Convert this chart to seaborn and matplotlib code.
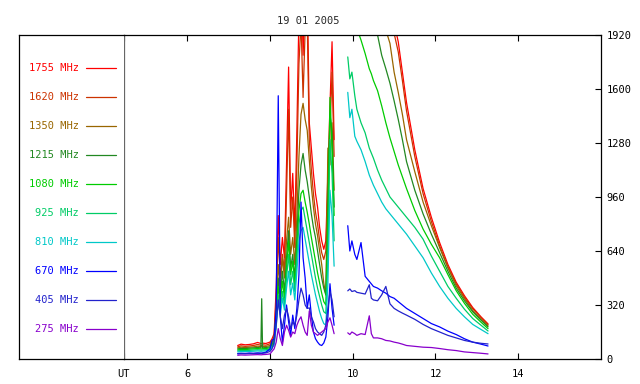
import numpy as np
import pandas as pd
import matplotlib
matplotlib.use('Agg')
import matplotlib.pyplot as plt
import seaborn as sns

sns.set_style('white')
matplotlib.rcParams['font.family'] = ['DejaVu Sans Mono']
matplotlib.rcParams['font.size'] = 7.5

freqs = ['1755 MHz', '1620 MHz', '1350 MHz', '1215 MHz', '1080 MHz',
         '925 MHz', '810 MHz', '670 MHz', '405 MHz', '275 MHz']
colors = ['#ff0000', '#cc3300', '#996600', '#228822', '#00cc00',
          '#00cc66', '#00c8c8', '#0000ff', '#2222cc', '#8800cc']

# pre-flare + impulsive phase (UT hours)
t_rise = [7.22, 7.30, 7.40, 7.50, 7.60, 7.70, 7.78, 7.80, 7.82, 7.90, 8.00, 8.05,
          8.10, 8.15, 8.20, 8.25, 8.30, 8.35, 8.40, 8.45, 8.50, 8.55,
          8.60, 8.65, 8.70, 8.75, 8.80, 8.85, 8.90, 8.95, 9.00, 9.05,
          9.10, 9.15, 9.20, 9.25, 9.30, 9.35, 9.40, 9.45, 9.50, 9.55]
# gradual decay phase
t_decay = [9.88, 9.93, 9.98, 10.05, 10.10, 10.20, 10.30, 10.40, 10.45, 10.50,
           10.60, 10.70, 10.80, 10.90, 11.00, 11.10, 11.20, 11.30, 11.50, 11.70,
           11.90, 12.10, 12.30, 12.50, 12.70, 12.90, 13.10, 13.27]

rise_1755 = [80, 88, 84, 86, 90, 98, 92, 90, 94, 92, 100, 120,
             150, 420, 850, 560, 720, 600, 1150, 1730, 880, 1100,
             760, 1350, 2050, 2400, 1800, 2150, 2250, 1400, 1250, 1100,
             980, 900, 780, 700, 650, 700, 1100, 1500, 1880, 1300]
rise_1620 = [72, 78, 75, 77, 80, 86, 82, 80, 84, 82, 90, 110,
             130, 360, 720, 480, 620, 520, 980, 1480, 780, 960,
             660, 1150, 1750, 2000, 1550, 1950, 2000, 1300, 1120, 980,
             870, 800, 700, 630, 590, 640, 1000, 1350, 1700, 1200]
rise_1350 = [66, 70, 68, 70, 72, 76, 74, 72, 75, 74, 80, 100,
             120, 300, 560, 420, 600, 480, 700, 840, 620, 720,
             560, 850, 1200, 1450, 1515, 1420, 1355, 1180, 1020, 900,
             800, 730, 640, 560, 450, 380, 1250, 1150, 1400, 1000]
rise_1215 = [60, 63, 62, 64, 66, 68, 66, 357, 66, 68, 72, 90,
             110, 260, 480, 360, 520, 400, 600, 760, 540, 620,
             480, 720, 1000, 1150, 1218, 1120, 1050, 960, 860, 780,
             720, 640, 560, 480, 420, 380, 900, 1450, 1350, 900]
rise_1080 = [54, 57, 56, 58, 60, 62, 60, 60, 61, 62, 66, 85,
             100, 240, 430, 330, 460, 360, 540, 700, 500, 580,
             440, 660, 880, 980, 1000, 930, 870, 800, 720, 650,
             580, 510, 450, 390, 340, 320, 800, 1550, 1250, 850]
rise_925 = [48, 50, 50, 51, 53, 55, 53, 53, 54, 55, 58, 75,
            90, 210, 380, 290, 400, 320, 480, 620, 440, 520,
            400, 590, 800, 880, 900, 830, 760, 690, 620, 550,
            480, 420, 370, 320, 280, 270, 600, 1300, 1100, 700]
rise_810 = [42, 44, 44, 45, 46, 48, 46, 46, 47, 48, 52, 68,
            80, 190, 340, 260, 360, 290, 420, 520, 380, 450,
            350, 520, 700, 760, 780, 710, 640, 570, 500, 440,
            380, 330, 280, 240, 210, 200, 450, 1000, 850, 550]
rise_670 = [32, 34, 33, 35, 34, 36, 35, 35, 36, 40, 60, 110,
            120, 300, 1560, 250, 100, 200, 320, 220, 140, 260,
            180, 300, 500, 930, 600, 480, 300, 380, 260, 160,
            120, 100, 85, 80, 95, 130, 250, 446, 300, 200]
rise_405 = [30, 32, 31, 33, 32, 34, 33, 33, 34, 36, 45, 60,
            100, 200, 350, 250, 180, 260, 300, 250, 180, 220,
            200, 260, 350, 420, 380, 320, 300, 303, 250, 220,
            180, 160, 150, 140, 160, 200, 300, 400, 350, 250]
rise_275 = [22, 24, 23, 24, 25, 26, 25, 25, 26, 27, 30, 45,
            60, 100, 180, 120, 80, 160, 200, 170, 130, 160,
            150, 200, 230, 250, 200, 160, 140, 285, 200, 160,
            150, 140, 150, 160, 170, 180, 220, 244, 200, 150]

decay_1755 = [3600, 3520, 3450, 3330, 3250, 3080, 2900, 2720, 2640, 2560,
              2400, 2270, 2150, 2060, 1990, 1880, 1700, 1520, 1240, 1010,
              840, 690, 560, 455, 375, 305, 250, 208]
decay_1620 = [3500, 3420, 3350, 3230, 3150, 2990, 2810, 2640, 2560, 2480,
              2330, 2200, 2090, 2000, 1930, 1820, 1650, 1470, 1200, 980,
              815, 670, 545, 445, 365, 298, 245, 203]
decay_1350 = [3100, 3030, 2960, 2860, 2790, 2640, 2490, 2340, 2270, 2200,
              2080, 2000, 1950, 1870, 1700, 1580, 1450, 1300, 1110, 930,
              790, 660, 540, 435, 357, 287, 235, 196]
decay_1215 = [2700, 2640, 2580, 2490, 2420, 2280, 2150, 2030, 1990, 1960,
              1920, 1800, 1720, 1634, 1530, 1420, 1300, 1170, 1000, 860,
              740, 630, 520, 420, 345, 280, 230, 190]
decay_1080 = [2200, 2140, 2080, 2010, 1960, 1890, 1810, 1720, 1690, 1650,
              1590, 1500, 1400, 1310, 1230, 1150, 1080, 1010, 880, 770,
              680, 600, 500, 405, 330, 265, 218, 180]
decay_925 = [1790, 1660, 1700, 1560, 1480, 1400, 1340, 1250, 1220, 1190,
             1120, 1060, 1010, 960, 930, 900, 870, 840, 780, 710,
             610, 520, 430, 360, 295, 240, 200, 166]
decay_810 = [1580, 1430, 1480, 1320, 1290, 1240, 1170, 1090, 1060, 1030,
             980, 930, 890, 860, 830, 800, 770, 740, 670, 600,
             510, 430, 360, 300, 250, 205, 175, 150]
decay_670 = [790, 640, 700, 620, 590, 690, 490, 460, 445, 430,
             420, 404, 390, 370, 360, 340, 320, 300, 270, 240,
             210, 190, 165, 145, 120, 100, 88, 77]
decay_405 = [404, 415, 400, 405, 395, 390, 385, 440, 360, 350,
             345, 380, 430, 327, 300, 285, 272, 260, 235, 205,
             180, 160, 140, 125, 110, 100, 93, 89]
decay_275 = [155, 145, 160, 150, 140, 150, 145, 256, 150, 125,
             125, 120, 110, 107, 100, 95, 88, 80, 75, 70,
             68, 62, 55, 50, 42, 38, 34, 30]

rises = [rise_1755, rise_1620, rise_1350, rise_1215, rise_1080,
         rise_925, rise_810, rise_670, rise_405, rise_275]
decays = [decay_1755, decay_1620, decay_1350, decay_1215, decay_1080,
          decay_925, decay_810, decay_670, decay_405, decay_275]

frames = []
for name, r, d in zip(freqs, rises, decays):
    frames.append(pd.DataFrame({'t': t_rise, 'v': r, 'freq': name, 'seg': 0}))
    frames.append(pd.DataFrame({'t': t_decay, 'v': d, 'freq': name, 'seg': 1}))
df = pd.concat(frames, ignore_index=True)
pal = dict(zip(freqs, colors))

fig = plt.figure(figsize=(6.4, 3.84), dpi=100)
W, H = 640, 384
ax = fig.add_axes([123.5 / W, 1 - 359 / H, (601 - 123.5) / W, (359 - 35) / H])
ax_leg = fig.add_axes([18.5 / W, 1 - 359 / H, (123.5 - 18.5) / W, (359 - 35) / H])

sns.lineplot(data=df, x='t', y='v', hue='freq', units='seg', estimator=None,
             palette=pal, hue_order=freqs, legend=False, sort=False,
             linewidth=0.9, ax=ax)

ax.set_xlim(4.46, 16)
ax.set_ylim(0, 1920)
ax.set_xticks([4.46, 6, 8, 10, 12, 14])
ax.set_xticklabels(['UT', '6', '8', '10', '12', '14'])
ax.set_yticks(np.arange(0, 1921, 320))
ax.yaxis.tick_right()
ax.tick_params(axis='x', direction='in', length=4, width=0.8, top=True, bottom=True,
               pad=7, colors='black')
ax.tick_params(axis='y', direction='in', length=4, width=0.8, left=False, right=True,
               pad=4, colors='black')
ax.set_xlabel('')
ax.set_ylabel('')
for side in ['top', 'bottom', 'right']:
    ax.spines[side].set_color('black')
    ax.spines[side].set_linewidth(0.9)
ax.spines['left'].set_color('#666666')
ax.spines['left'].set_linewidth(0.9)

# legend panel on the left
ax_leg.set_xlim(18.5, 123.5)
ax_leg.set_ylim(359, 35)
ax_leg.set_xticks([])
ax_leg.set_yticks([])
ax_leg.spines['right'].set_visible(False)
for side in ['top', 'bottom', 'left']:
    ax_leg.spines[side].set_color('black')
    ax_leg.spines[side].set_linewidth(0.9)
for i, (name, c) in enumerate(zip(freqs, colors)):
    y = 68 + 29 * i
    ax_leg.text(79, y, name, color=c, ha='right', va='center')
    ax_leg.plot([86, 116], [y, y], color=c, linewidth=0.9)

fig.text(308 / W, 1 - 21 / H, '19 01 2005', ha='center', va='center')

fig.savefig('out.png', dpi=100)
